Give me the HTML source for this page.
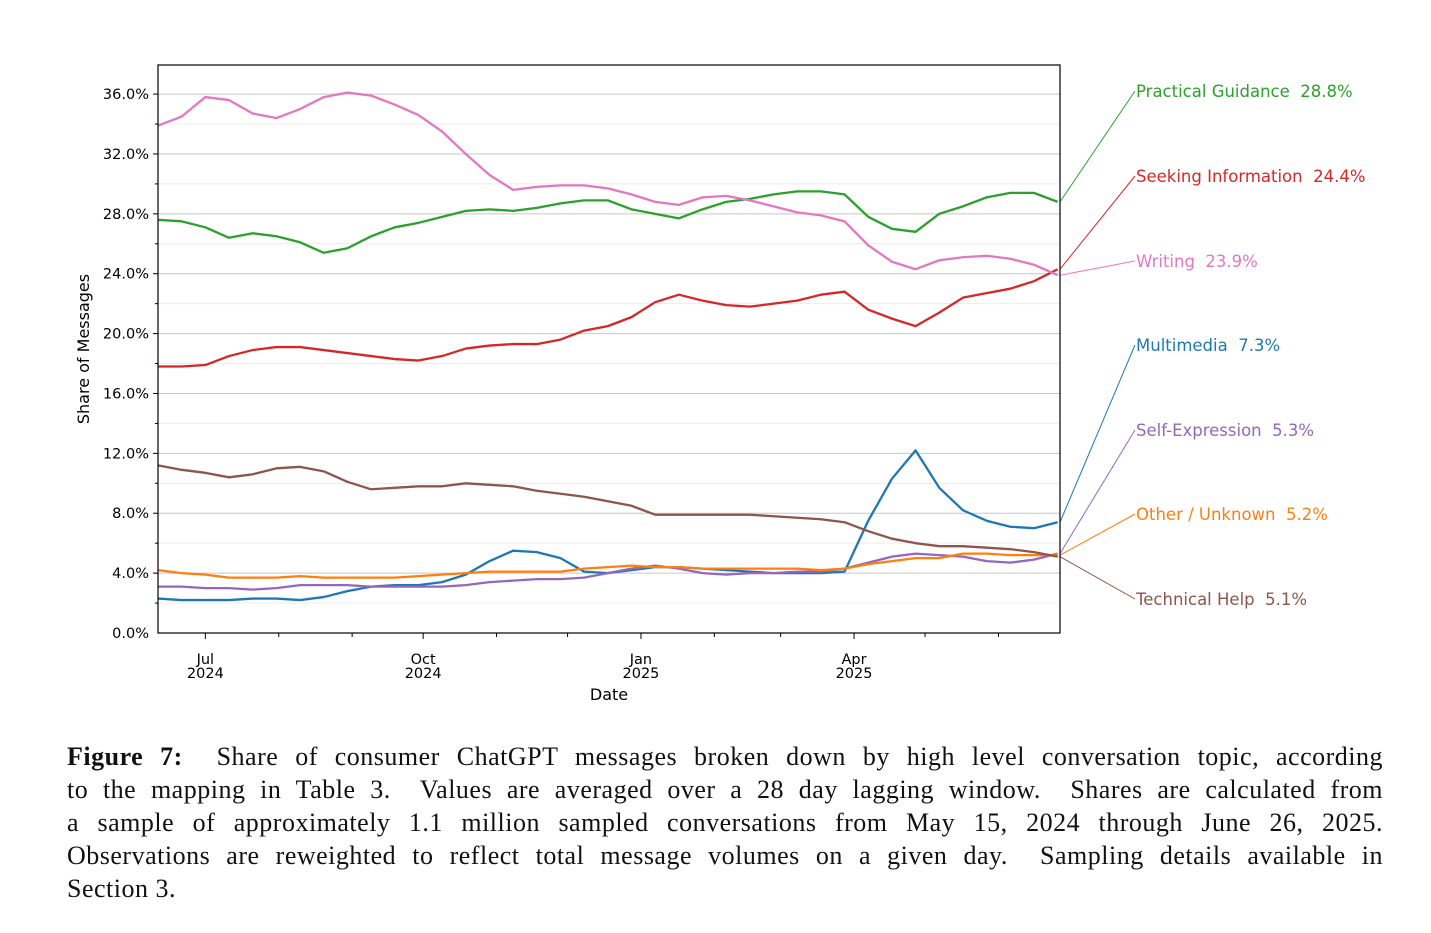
<!DOCTYPE html>
<html><head><meta charset="utf-8">
<style>
body{margin:0;background:#fff;width:1431px;height:933px;overflow:hidden}
svg{position:absolute;left:0;top:0}
#cap{position:absolute;left:67px;top:740px;width:1316px;font-family:"Liberation Serif",serif;font-size:26px;line-height:33px;color:#111;letter-spacing:0.5px}
#cap div{text-align:justify;text-align-last:justify;white-space:nowrap;overflow:visible}
#cap div.last{text-align-last:left}
</style></head><body>
<svg id="chart" width="1431" height="933"></svg>
<div id="cap">
<div><b>Figure 7:</b>&nbsp; Share of consumer ChatGPT messages broken down by high level conversation topic, according</div>
<div>to the mapping in Table 3.&nbsp; Values are averaged over a 28 day lagging window.&nbsp; Shares are calculated from</div>
<div>a sample of approximately 1.1 million sampled conversations from May 15, 2024 through June 26, 2025.</div>
<div>Observations are reweighted to reflect total message volumes on a given day.&nbsp; Sampling details available in</div>
<div class="last">Section 3.</div>
</div>
<script>
const dayOffsets=[0,10,20,30,40,50,60,70,80,90,100,110,120,130,140,150,160,170,180,190,200,210,220,230,240,250,260,270,280,290,300,310,320,330,340,350,360,370,380];
const seriesNames=["Practical Guidance","Seeking Information","Writing","Multimedia","Self-Expression","Other / Unknown","Technical Help"];
const seriesLabels=["28.8%","24.4%","23.9%","7.3%","5.3%","5.2%","5.1%"];
const seriesColors=["#2ca02c","#d62728","#e377c2","#1f77b4","#9467bd","#ff7f0e","#8c564b"];
const practical=[27.6,27.5,27.1,26.4,26.7,26.5,26.1,25.4,25.7,26.5,27.1,27.4,27.8,28.2,28.3,28.2,28.4,28.7,28.9,28.9,28.3,28.0,27.7,28.3,28.8,29.0,29.3,29.5,29.5,29.3,27.8,27.0,26.8,28.0,28.5,29.1,29.4,29.4,28.8];
const seeking=[17.8,17.8,17.9,18.5,18.9,19.1,19.1,18.9,18.7,18.5,18.3,18.2,18.5,19.0,19.2,19.3,19.3,19.6,20.2,20.5,21.1,22.1,22.6,22.2,21.9,21.8,22.0,22.2,22.6,22.8,21.6,21.0,20.5,21.4,22.4,22.7,23.0,23.5,24.3];
const writing=[33.9,34.5,35.8,35.6,34.7,34.4,35.0,35.8,36.1,35.9,35.3,34.6,33.5,32.0,30.6,29.6,29.8,29.9,29.9,29.7,29.3,28.8,28.6,29.1,29.2,28.9,28.5,28.1,27.9,27.5,25.9,24.8,24.3,24.9,25.1,25.2,25.0,24.6,23.9];
const multimedia=[2.3,2.2,2.2,2.2,2.3,2.3,2.2,2.4,2.8,3.1,3.2,3.2,3.4,3.9,4.8,5.5,5.4,5.0,4.1,4.0,4.2,4.4,4.4,4.3,4.2,4.1,4.0,4.0,4.0,4.1,7.5,10.3,12.2,9.7,8.2,7.5,7.1,7.0,7.4];
const selfExpression=[3.1,3.1,3.0,3.0,2.9,3.0,3.2,3.2,3.2,3.1,3.1,3.1,3.1,3.2,3.4,3.5,3.6,3.6,3.7,4.0,4.3,4.5,4.3,4.0,3.9,4.0,4.0,4.1,4.1,4.3,4.7,5.1,5.3,5.2,5.1,4.8,4.7,4.9,5.3];
const otherUnknown=[4.2,4.0,3.9,3.7,3.7,3.7,3.8,3.7,3.7,3.7,3.7,3.8,3.9,4.0,4.1,4.1,4.1,4.1,4.3,4.4,4.5,4.4,4.4,4.3,4.3,4.3,4.3,4.3,4.2,4.3,4.6,4.8,5.0,5.0,5.3,5.3,5.2,5.2,5.2];
const technical=[11.2,10.9,10.7,10.4,10.6,11.0,11.1,10.8,10.1,9.6,9.7,9.8,9.8,10.0,9.9,9.8,9.5,9.3,9.1,8.8,8.5,7.9,7.9,7.9,7.9,7.9,7.8,7.7,7.6,7.4,6.8,6.3,6.0,5.8,5.8,5.7,5.6,5.4,5.1];
const yTicks=[0,4,8,12,16,20,24,28,32,36];
const xTickDays=[20,112,204,294];
const xTickLabels=[["Jul","2024"],["Oct","2024"],["Jan","2025"],["Apr","2025"]];
const xMinorDays=[51,82,143,173,235,263,324,355];

const svg=document.getElementById('chart');
const NS='http://www.w3.org/2000/svg';
const L=158,R=1060,T=65,B=633;
const x=d=>L+d*(R-L)/381;
const y=v=>B-v*14.97;
function mk(t,a,p){const e=document.createElementNS(NS,t);for(const k in a)e.setAttribute(k,a[k]);(p||svg).appendChild(e);return e;}
for(let v=2;v<38;v+=2){const g=mk('line',{x1:L,x2:R,y1:y(v),y2:y(v),stroke:v%4?'#ececec':'#c8c8c8','stroke-width':1});


const tk=mk('line',{x1:L-(v%4?3:5),x2:L,y1:y(v),y2:y(v),stroke:'#000'});

}
yTicks.forEach(v=>{const t=mk('text',{x:L-9,y:y(v)+5,'text-anchor':'end','font-family':'DejaVu Sans,sans-serif','font-size':14.5,fill:'#000'});t.textContent=v.toFixed(1)+'%';

});
xTickDays.forEach((d,i)=>{const tk=mk('line',{x1:x(d),x2:x(d),y1:B,y2:B+6,stroke:'#000'});


xTickLabels[i].forEach((s,j)=>{const t=mk('text',{x:x(d),y:B+31+j*14,'text-anchor':'middle','font-family':'DejaVu Sans,sans-serif','font-size':14.5});t.textContent=s;

});});
xMinorDays.forEach(d=>{const tk=mk('line',{x1:x(d),x2:x(d),y1:B,y2:B+4,stroke:'#000'});

});
const series=[practical,seeking,writing,multimedia,selfExpression,otherUnknown,technical];
const labelY=[91,176,261,345,430,514,599];
series.forEach((s,i)=>{const p=mk('polyline',{points:s.map((v,j)=>x(dayOffsets[j])+','+y(v)).join(' '),fill:'none',stroke:seriesColors[i],'stroke-width':2.3,'stroke-linejoin':'round'});


const c=mk('line',{x1:R,y1:y(s[s.length-1]),x2:1135,y2:labelY[i],stroke:seriesColors[i],'stroke-width':1});


const t=mk('text',{x:1136,y:labelY[i]+6,'font-family':'DejaVu Sans,sans-serif','font-size':16.5,fill:seriesColors[i]});t.textContent=seriesNames[i]+'  '+seriesLabels[i];t.style.whiteSpace='pre';

});
const fr=mk('rect',{x:L,y:T,width:R-L,height:B-T,fill:'none',stroke:'#000','stroke-width':1.2});


const yt=mk('text',{x:0,y:0,transform:'translate(89,349) rotate(-90)','text-anchor':'middle','font-family':'DejaVu Sans,sans-serif','font-size':16});yt.textContent='Share of Messages';


const xt=mk('text',{x:609,y:700,'text-anchor':'middle','font-family':'DejaVu Sans,sans-serif','font-size':16});xt.textContent='Date';


</script>
</body></html>
